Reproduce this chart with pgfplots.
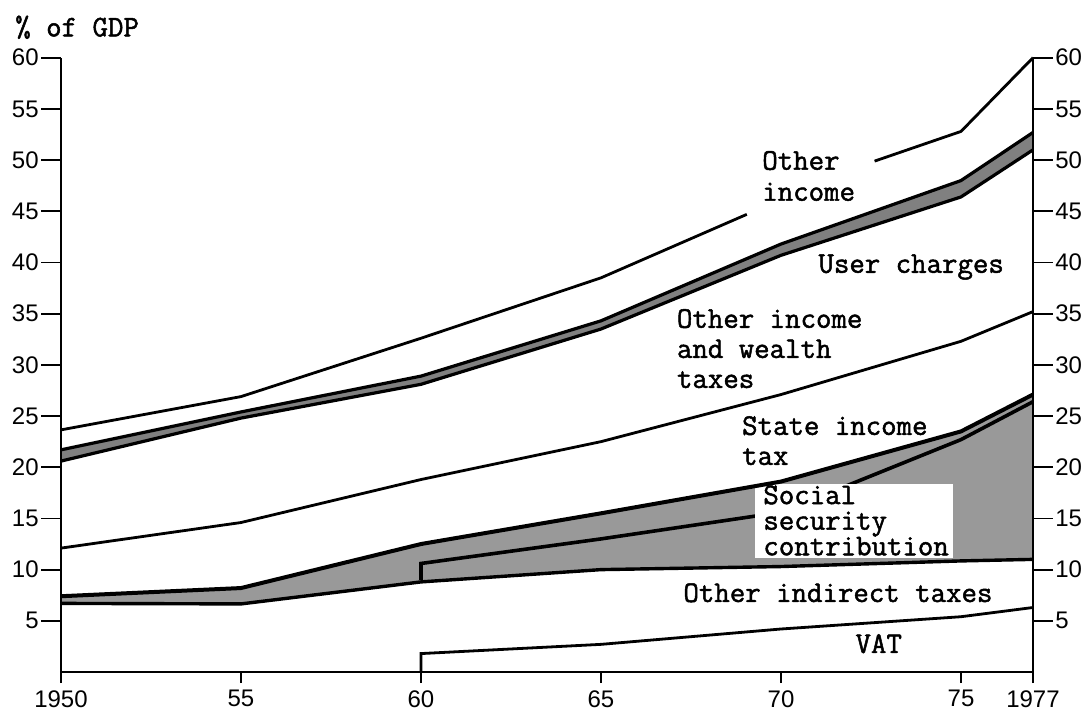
\documentclass[border=0pt]{standalone}
\usepackage{pgfplots}
\pgfplotsset{compat=1.18}
\usepackage{fontspec}
\setmainfont{Liberation Sans}
\newfontfamily\tickfont{Liberation Sans}
\newfontfamily\typ[FakeBold=1.6]{Latin Modern Mono}
\tikzset{lbl/.style={anchor=base west, inner sep=0pt, font=\typ\fontsize{15}{17}\selectfont}}
\begin{document}
\begin{tikzpicture}
\useasboundingbox (-30.5pt,-17.5pt) rectangle (513pt,336pt);
\pgfplotsset{
  base/.style={at={(0,0)}, anchor=south west, scale only axis,
    width=486pt, height=307.15pt, xmin=1950, xmax=1977, ymin=0, ymax=60,
    clip=false,
    tick label style={font=\tickfont\fontsize{12}{14}\selectfont},
    /pgf/number format/assume math mode=true},
  fix/.style={axis line style={-, line width=1pt}, tick align=outside,
    tick style={draw=black, line width=0.9pt}},
}
\begin{axis}[base, axis line style={draw=none}, ytick=\empty,
  xtick pos=left, tick align=outside, tick style={draw=black, line width=0.9pt},
  xtick={1950,1955,1960,1965,1970,1975,1977},
  xticklabels={1950,55,60,65,70,75,1977},
  major tick length=5.5pt, xticklabel style={inner sep=0.5pt, yshift=-3pt}]
\draw[line width=1pt] (rel axis cs:0,0) -- (rel axis cs:1,0);
% x tick marks
\draw[line width=0.9pt] (axis cs:1950,0) -- ([yshift=-5.5pt]axis cs:1950,0);
\draw[line width=0.9pt] (axis cs:1955,0) -- ([yshift=-5.5pt]axis cs:1955,0);
\draw[line width=0.9pt] (axis cs:1960,0) -- ([yshift=-5.5pt]axis cs:1960,0);
\draw[line width=0.9pt] (axis cs:1965,0) -- ([yshift=-5.5pt]axis cs:1965,0);
\draw[line width=0.9pt] (axis cs:1970,0) -- ([yshift=-5.5pt]axis cs:1970,0);
\draw[line width=0.9pt] (axis cs:1975,0) -- ([yshift=-5.5pt]axis cs:1975,0);
\draw[line width=0.9pt] (axis cs:1977,0) -- ([yshift=-5.5pt]axis cs:1977,0);
% social security band
\addplot[fill=black!40, draw=none] coordinates {(1950,6.7)(1955,6.65)(1960,8.8)(1965,10.0)(1970,10.3)(1975,10.85)(1977,11.0)(1977,27.1)(1975,23.5)(1970,18.6)(1965,15.5)(1960,12.5)(1955,8.2)(1950,7.4)} -- cycle;
% thin band (user charges)
\addplot[fill=black!50, draw=none] coordinates {(1950,20.6)(1955,24.8)(1960,28.1)(1965,33.5)(1970,40.7)(1975,46.4)(1977,51.0)(1977,52.7)(1975,48.0)(1970,41.8)(1965,34.3)(1960,28.9)(1955,25.4)(1950,21.7)} -- cycle;
% inner social security line
\addplot[line width=1.8pt, black] coordinates {(1960,9.0)(1960,10.6)(1965,13.0)(1970,15.6)(1975,22.7)(1977,26.4)};
% white box behind label
\fill[white] (axis cs:1969.28,11.1) rectangle (axis cs:1974.78,18.4);
% VAT
\addplot[line width=1.4pt, black] coordinates {(1960,0)(1960,1.8)(1965,2.7)(1970,4.2)(1975,5.4)(1977,6.3)};
% other indirect taxes top
\addplot[line width=1.7pt, black] coordinates {(1950,6.7)(1955,6.65)(1960,8.8)(1965,10.0)(1970,10.3)(1975,10.85)(1977,11.0)};
% social security top
\addplot[line width=2.0pt, black] coordinates {(1950,7.4)(1955,8.2)(1960,12.5)(1965,15.5)(1970,18.6)(1975,23.5)(1977,27.1)};
% state income tax top
\addplot[line width=1.4pt, black] coordinates {(1950,12.1)(1955,14.6)(1960,18.8)(1965,22.5)(1970,27.1)(1975,32.3)(1977,35.2)};
% thin band edges
\addplot[line width=1.6pt, black] coordinates {(1950,20.6)(1955,24.8)(1960,28.1)(1965,33.5)(1970,40.7)(1975,46.4)(1977,51.0)};
\addplot[line width=1.6pt, black] coordinates {(1950,21.7)(1955,25.4)(1960,28.9)(1965,34.3)(1970,41.8)(1975,48.0)(1977,52.7)};
% total (other income)
\addplot[line width=1.4pt, black] coordinates {(1950,23.65)(1955,26.9)(1960,32.6)(1965,38.5)(1969.05,44.7)};
\addplot[line width=1.4pt, black] coordinates {(1972.6,49.9)(1975,52.8)(1977,60.0)};
% labels
\node[lbl] at (axis cs:1948.72,62.08) {\% of GDP};
\node[lbl] at (axis cs:1969.47,49.06) {Other};
\node[lbl] at (axis cs:1969.47,46.03) {income};
\node[lbl] at (axis cs:1971.03,38.99) {User charges};
\node[lbl] at (axis cs:1967.10,33.62) {Other income};
\node[lbl] at (axis cs:1967.10,30.68) {and wealth};
\node[lbl] at (axis cs:1967.10,27.75) {taxes};
\node[lbl] at (axis cs:1968.91,23.16) {State income};
\node[lbl] at (axis cs:1968.91,20.23) {tax};
\node[lbl] at (axis cs:1969.50,16.40) {Social};
\node[lbl] at (axis cs:1969.50,13.90) {security};
\node[lbl] at (axis cs:1969.50,11.40) {contribution};
\node[lbl] at (axis cs:1967.28,6.84) {Other indirect taxes};
\node[lbl] at (axis cs:1972.06,1.86) {VAT};
\end{axis}
\begin{axis}[base, axis x line*=none, axis y line*=left, xtick=\empty,
  ytick={5,10,...,60}, major tick length=10pt,
  yticklabel style={inner sep=1pt}, fix]
\end{axis}
\begin{axis}[base, axis x line*=none, axis y line*=right, xtick=\empty,
  ytick={5,10,...,60}, major tick length=10pt,
  yticklabel style={inner sep=1pt}, fix]
\end{axis}
\end{tikzpicture}
\end{document}
